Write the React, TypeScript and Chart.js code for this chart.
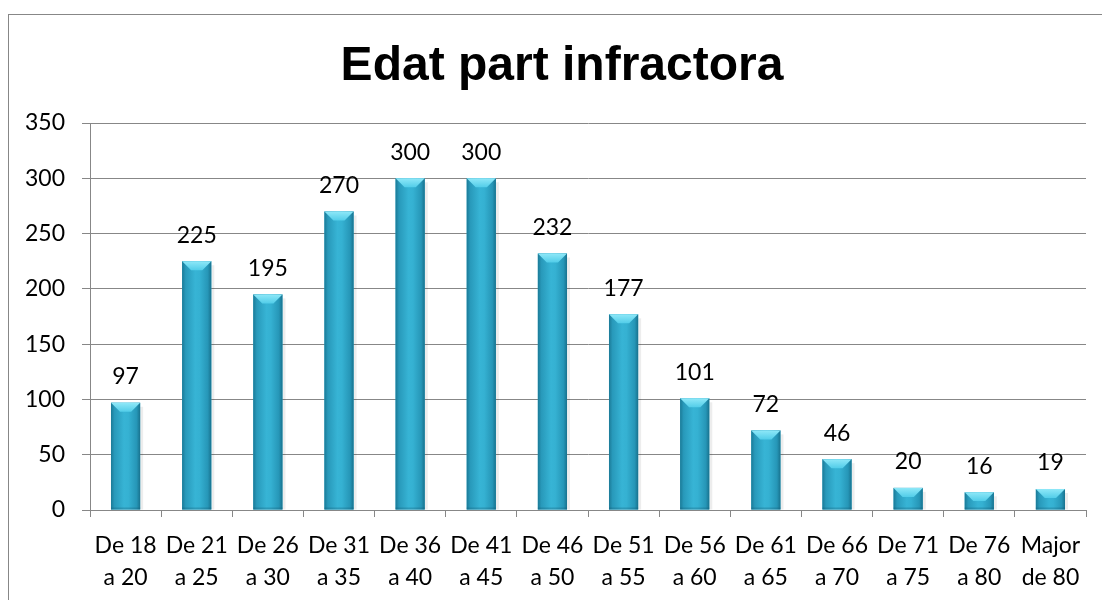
import React, { useEffect, useRef } from "react";
import { Chart, registerables } from "chart.js";

Chart.register(...registerables);

const TITLE = "Edat part infractora";
const CATEGORY_LINE1 = ["De 18", "De 21", "De 26", "De 31", "De 36", "De 41", "De 46", "De 51", "De 56", "De 61", "De 66", "De 71", "De 76", "Major"];
const CATEGORY_LINE2 = ["a 20", "a 25", "a 30", "a 35", "a 40", "a 45", "a 50", "a 55", "a 60", "a 65", "a 70", "a 75", "a 80", "de 80"];
const VALUES = [97, 225, 195, 270, 300, 300, 232, 177, 101, 72, 46, 20, 16, 19];
const Y_MIN = 0;
const Y_MAX = 350;
const Y_STEP = 50;

const FONT = "Lato, 'Noto Sans', sans-serif";
const GRID = "#878787";

const framePlugin = {
  id: "frame",
  beforeDraw(chart: any) {
    const ctx = chart.ctx;
    ctx.save();
    ctx.fillStyle = "#ffffff";
    ctx.fillRect(0, 0, chart.width, chart.height);
    ctx.strokeStyle = GRID;
    ctx.lineWidth = 1;
    ctx.strokeRect(8.5, 14.5, chart.width + 20, chart.height + 20);
    ctx.restore();
  },
};

const titlePlugin = {
  id: "customTitle",
  afterDraw(chart: any) {
    const ctx = chart.ctx;
    ctx.save();
    ctx.font = "bold 48px 'Liberation Sans', Arial, sans-serif";
    ctx.fillStyle = "#000000";
    ctx.textAlign = "center";
    ctx.textBaseline = "alphabetic";
    ctx.fillText(TITLE, 562, 80);
    ctx.restore();
  },
};

const bevelPlugin = {
  id: "bevel",
  afterDatasetsDraw(chart: any) {
    const ctx = chart.ctx;
    const meta = chart.getDatasetMeta(0);
    ctx.save();
    meta.data.forEach((bar: any) => {
      const { x, y, base, width } = bar.getProps(["x", "y", "base", "width"], true);
      if (![x, y, base, width].every(Number.isFinite)) return;
      const l = x - width / 2;
      const r = x + width / 2;
      const h = base - y;
      // soft right shadow
      ctx.fillStyle = "rgba(0,0,0,0.07)";
      ctx.fillRect(r, y + 4, 3, h - 4);
      // body gradient
      const bg = ctx.createLinearGradient(l, 0, r, 0);
      bg.addColorStop(0, "#1b7a97");
      bg.addColorStop(0.12, "#2899ba");
      bg.addColorStop(0.45, "#37b4d5");
      bg.addColorStop(0.6, "#35b1d2");
      bg.addColorStop(0.88, "#2696b7");
      bg.addColorStop(1, "#18728e");
      ctx.fillStyle = bg;
      ctx.fillRect(l, y, width, h);
      const b = Math.min(9, h / 2);
      // top bevel
      const g = ctx.createLinearGradient(0, y, 0, y + b);
      g.addColorStop(0, "#8fe8f8");
      g.addColorStop(1, "#52cde9");
      ctx.fillStyle = g;
      ctx.beginPath();
      ctx.moveTo(l, y);
      ctx.lineTo(r, y);
      ctx.lineTo(r - b * 1.0, y + b);
      ctx.lineTo(l + b * 1.0, y + b);
      ctx.closePath();
      ctx.fill();
      // bottom edge (subtle)
      const bb = Math.min(2, h / 4);
      ctx.fillStyle = "rgba(20,90,115,0.3)";
      ctx.fillRect(l, base - bb, width, bb);
    });
    ctx.restore();
  },
};

const labelPlugin = {
  id: "valueLabels",
  afterDatasetsDraw(chart: any) {
    const ctx = chart.ctx;
    const meta = chart.getDatasetMeta(0);
    ctx.save();
    ctx.font = "23px " + FONT;
    ctx.fillStyle = "#000000";
    ctx.textAlign = "center";
    ctx.textBaseline = "middle";
    meta.data.forEach((bar: any, i: number) => {
      const { x, y } = bar.getProps(["x", "y"], true);
      ctx.fillText(String(VALUES[i]), x, y - 26);
    });
    ctx.restore();
  },
};

export default function App() {
  const ref = useRef<HTMLCanvasElement | null>(null);

  useEffect(() => {
    if (!ref.current) return;
    const labels = CATEGORY_LINE1.map((a, i) => [a, CATEGORY_LINE2[i]]);
    const chart = new Chart(ref.current, {
      type: "bar",
      data: {
        labels,
        datasets: [
          {
            data: VALUES,
            barPercentage: 0.41,
            categoryPercentage: 1,
            borderWidth: 0,
            backgroundColor: "#33b1d2",
          },
        ],
      },
      options: {
        animation: false,
        responsive: false,
        maintainAspectRatio: false,
        layout: { padding: { left: 8, right: 16, top: 123, bottom: 0 } },
        plugins: {
          legend: { display: false },
          title: { display: false },
          tooltip: { enabled: false },
        },
        scales: {
          x: {
            grid: {
              display: true,
              drawOnChartArea: false,
              drawTicks: true,
              tickLength: 7,
              color: GRID,
              offset: true,
            },
            border: { display: true, color: GRID, width: 1 },
            ticks: {
              color: "#000000",
              font: { family: FONT, size: 23, lineHeight: 1.4 },
              padding: 12,
              maxRotation: 0,
              autoSkip: false,
            },
            afterFit: (s: any) => {
              s.height = 90;
            },
          },
          y: {
            min: Y_MIN,
            max: Y_MAX,
            grid: {
              color: GRID,
              tickLength: 8,
              drawTicks: true,
            },
            border: { display: true, color: GRID, width: 1 },
            ticks: {
              stepSize: Y_STEP,
              color: "#000000",
              font: { family: FONT, size: 23 },
              padding: 17,
            },
            afterFit: (s: any) => {
              s.width = 82;
            },
          },
        },
      },
      plugins: [framePlugin, bevelPlugin, labelPlugin, titlePlugin],
    });
    return () => chart.destroy();
  }, []);

  return (
    <div style={{ position: "fixed", left: 0, top: 0, width: 1102, height: 600, background: "#fff" }}>
      <canvas ref={ref} width={1102} height={600} style={{ display: "block" }} />
    </div>
  );
}
